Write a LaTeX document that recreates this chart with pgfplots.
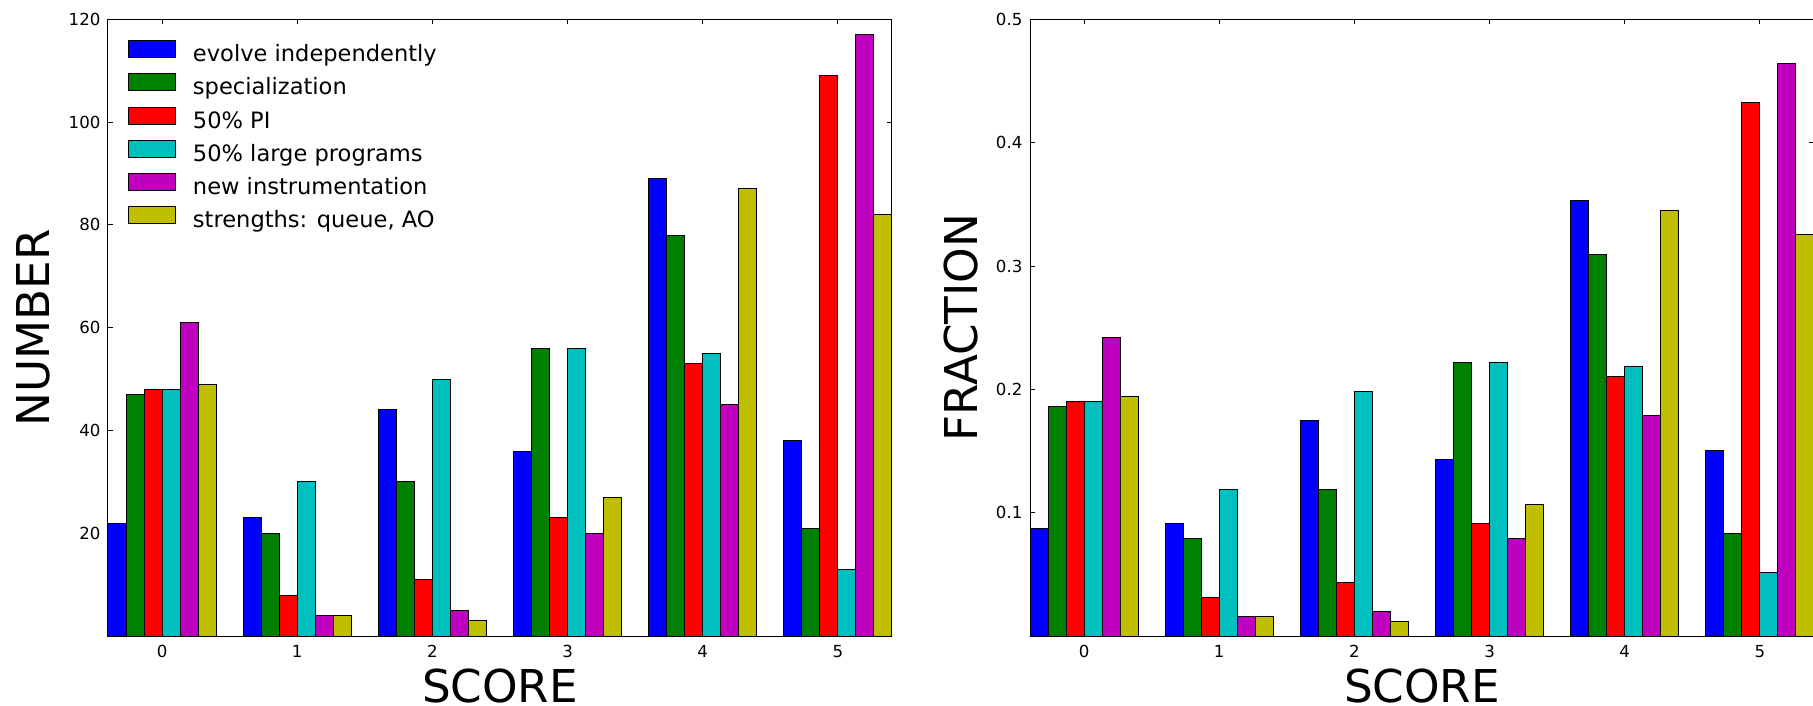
\documentclass[border=0pt]{standalone}
\usepackage{fontspec}
\setmainfont{DejaVu Sans}
\usepackage{pgfplots}
\usepackage{pgfplotstable}
\pgfplotsset{compat=1.18}

\definecolor{mb}{rgb}{0,0,1}
\definecolor{mg}{rgb}{0,0.5,0}
\definecolor{mr}{rgb}{1,0,0}
\definecolor{mc}{rgb}{0,0.75,0.75}
\definecolor{mm}{rgb}{0.75,0,0.75}
\definecolor{my}{rgb}{0.75,0.75,0}

% counts per score
\pgfplotstableread{
score b g r c m y
0 22 47 48 48 61 49
1 23 20 8 30 4 4
2 44 30 11 50 5 3
3 36 56 23 56 20 27
4 89 78 53 55 45 87
5 38 21 109 13 117 82
}\counts

% fractions per score (each series sums to 1)
\pgfplotstableread{
score b g r c m y
0 0.0873 0.1865 0.1905 0.1905 0.2421 0.1944
1 0.0913 0.0794 0.0317 0.1190 0.0159 0.0159
2 0.1746 0.1190 0.0437 0.1984 0.0198 0.0119
3 0.1429 0.2222 0.0913 0.2222 0.0794 0.1071
4 0.3532 0.3095 0.2103 0.2183 0.1786 0.3452
5 0.1508 0.0833 0.4325 0.0516 0.4643 0.3254
}\fracs

\pgfplotsset{
  panel/.style={
    scale only axis, width=566.6pt, height=445.9pt,
    anchor=south west,
    xmin=-0.4, xmax=5.4, ymin=0,
    xtick={0,1,2,3,4,5},
    tick pos=both, tick align=inside,
    major tick length=3.6pt,
    axis line style={line width=0.72pt, black},
    every tick/.style={black, line width=0.72pt},
    /pgf/number format/assume math mode=true,
    tick label style={font=\fontsize{12}{14}\selectfont},
    xticklabel style={inner sep=0pt, anchor=north, yshift=-6.3pt},
    yticklabel style={inner sep=0pt, anchor=east, xshift=-5.3pt},
    label style={font=\fontsize{32.7}{36}\selectfont},
    xlabel style={at={(rel axis cs:0.5,0)}, anchor=base, yshift=-48pt},
    xlabel={SCORE},
    legend image code/.code={\draw[#1] (0pt,-1.4pt) rectangle (34pt,10.9pt);},
  },
  bars/.style={ybar, bar width=0.13333, draw=black, line width=0.72pt, fill=#1},
}

\begin{document}
\begin{tikzpicture}
\begin{axis}[panel, at={(78.05pt,50.4pt)},
    ymax=120, ytick={20,40,60,80,100,120},
    ylabel={NUMBER},
    ylabel style={at={(rel axis cs:-0.0740,0.5)}, anchor=base, rotate=0},
    legend style={draw=none, fill=none, inner sep=0pt,
        at={(rel axis cs:0,1)}, anchor=north west, xshift=14.5pt, yshift=-15pt,
        font=\fontsize{16.3}{19}\selectfont, row sep=5.1pt,
        nodes={inner sep=0pt, text height=11.8pt, text depth=3.5pt},
        /tikz/every odd column/.append style={column sep=12pt}},
    legend cell align=left,
    legend columns=1,
]
\addplot[bars=mb, bar shift=-0.33333] table[x=score,y=b]{\counts};
\addlegendentry{evolve independently}
\addplot[bars=mg, bar shift=-0.2] table[x=score,y=g]{\counts};
\addlegendentry{specialization}
\addplot[bars=mr, bar shift=-0.06667] table[x=score,y=r]{\counts};
\addlegendentry{50\% PI}
\addplot[bars=mc, bar shift=0.06667] table[x=score,y=c]{\counts};
\addlegendentry{50\% large programs}
\addplot[bars=mm, bar shift=0.2] table[x=score,y=m]{\counts};
\addlegendentry{new instrumentation}
\addplot[bars=my, bar shift=0.33333] table[x=score,y=y]{\counts};
\addlegendentry{strengths: queue, AO}
\end{axis}

\begin{axis}[panel, at={(744.4pt,50.4pt)},
    ymax=0.5, ytick={0.1,0.2,0.3,0.4,0.5},
    yticklabel style={/pgf/number format/.cd, fixed, precision=1},
    ylabel={FRACTION},
    ylabel style={at={(rel axis cs:-0.0672,0.5)}, anchor=base, rotate=0},
]
\addplot[bars=mb, bar shift=-0.33333] table[x=score,y=b]{\fracs};
\addplot[bars=mg, bar shift=-0.2] table[x=score,y=g]{\fracs};
\addplot[bars=mr, bar shift=-0.06667] table[x=score,y=r]{\fracs};
\addplot[bars=mc, bar shift=0.06667] table[x=score,y=c]{\fracs};
\addplot[bars=mm, bar shift=0.2] table[x=score,y=m]{\fracs};
\addplot[bars=my, bar shift=0.33333] table[x=score,y=y]{\fracs};
\end{axis}
\pgfresetboundingbox
\useasboundingbox (0,0) rectangle (1310.3pt,510.2pt);
\end{tikzpicture}
\end{document}
